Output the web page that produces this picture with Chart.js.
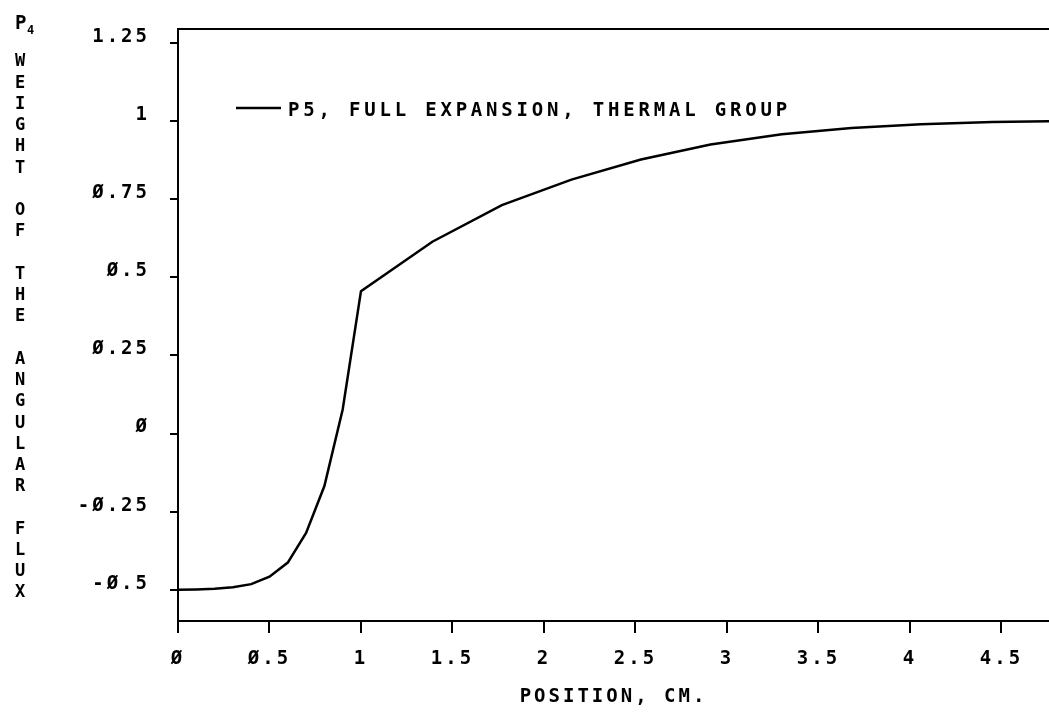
<!DOCTYPE html>
<html>
<head>
<meta charset="utf-8">
<title>P4 weight of the angular flux</title>
<script src="https://cdn.jsdelivr.net/npm/chart.js@4.4.1/dist/chart.umd.min.js"></script>
<style>
  html, body { margin: 0; padding: 0; background: #fff; }
  #wrap { width: 1049px; height: 714px; position: relative; }
</style>
</head>
<body>
<div id="wrap"><canvas id="chart"></canvas></div>
<script>
// Valores (posición en cm, peso P4)
const POSITION = [0, 0.1, 0.2, 0.3, 0.4, 0.5, 0.6, 0.7, 0.8, 0.9, 1.0,
  1.39, 1.77, 2.15, 2.53, 2.91, 3.30, 3.68, 4.06, 4.45, 4.83];
const WEIGHT = [-0.5, -0.499, -0.497, -0.492, -0.482, -0.458, -0.413, -0.318, -0.168, 0.077, 0.456,
  0.614, 0.731, 0.813, 0.877, 0.925, 0.958, 0.978, 0.990, 0.997, 1.0];

const X_TICKS = [0, 0.5, 1, 1.5, 2, 2.5, 3, 3.5, 4, 4.5];
const Y_TICKS = [-0.5, -0.25, 0, 0.25, 0.5, 0.75, 1, 1.25];

const SERIES_LABEL = 'P5, FULL EXPANSION, THERMAL GROUP';
const X_TITLE = 'POSITION, CM.';
const Y_TITLE = 'WEIGHT OF THE ANGULAR FLUX';
const Y_SYMBOL = 'P';
const Y_SUB = '4';

const INK = '#000';
const FONT = "'DejaVu Sans Mono', 'Liberation Mono', monospace";

Chart.defaults.font.family = FONT;
Chart.defaults.font.size = 19;
Chart.defaults.font.weight = 'bold';
Chart.defaults.color = INK;

// el cero del plotter va tachado
function plotterNum(v) {
  return String(v).replace(/0/g, 'Ø');
}

// Espaciado ancho de letra (estilo plotter) + marco superior, leyenda y títulos a mano
const plotter = {
  id: 'plotter',
  beforeUpdate(chart) { chart.ctx.letterSpacing = '3px'; },
  beforeDraw(chart) { chart.ctx.letterSpacing = '3px'; },
  afterDraw(chart) {
    const ctx = chart.ctx;
    const a = chart.chartArea;
    ctx.save();
    ctx.strokeStyle = INK;
    ctx.fillStyle = INK;

    // borde superior del marco
    ctx.lineWidth = 2;
    ctx.beginPath();
    ctx.moveTo(a.left, a.top);
    ctx.lineTo(a.right, a.top);
    ctx.stroke();

    // leyenda dentro del área
    ctx.lineWidth = 2.4;
    ctx.beginPath();
    ctx.moveTo(a.left + 58, 108);
    ctx.lineTo(a.left + 103, 108);
    ctx.stroke();
    ctx.font = `bold 19px ${FONT}`;
    ctx.letterSpacing = '3.8px';
    ctx.textAlign = 'left';
    ctx.textBaseline = 'alphabetic';
    ctx.fillText(chart.data.datasets[0].label, a.left + 110, 116);

    // título del eje Y: símbolo P4 y letras apiladas
    ctx.letterSpacing = '0px';
    ctx.fillText(Y_SYMBOL, 15, 29);
    ctx.font = `bold 12px ${FONT}`;
    ctx.fillText(Y_SUB, 27, 34);

    ctx.font = `bold 17px ${FONT}`;
    ctx.textAlign = 'center';
    ctx.textBaseline = 'middle';
    const chars = Y_TITLE.split('');
    const step = 21.24;
    chars.forEach((c, i) => {
      if (c !== ' ') ctx.fillText(c, 20, 62 + i * step);
    });
    ctx.restore();
    ctx.letterSpacing = '3px';
  },
};

new Chart(document.getElementById('chart'), {
  type: 'line',
  data: {
    datasets: [{
      label: SERIES_LABEL,
      data: POSITION.map((x, i) => ({ x, y: WEIGHT[i] })),
      borderColor: INK,
      borderWidth: 2.5,
      pointRadius: 0,
      tension: 0,
      fill: false,
    }],
  },
  options: {
    responsive: true,
    maintainAspectRatio: false,
    animation: false,
    devicePixelRatio: 1,
    layout: { padding: { top: 29, right: 0, left: 0, bottom: 0 } },
    scales: {
      x: {
        type: 'linear',
        min: 0,
        max: 4.76,
        afterBuildTicks: (s) => { s.ticks = X_TICKS.map((v) => ({ value: v })); },
        afterFit: (s) => { s.height = 93; s.paddingLeft = 0; s.paddingRight = 0; },
        border: { display: true, color: INK, width: 2 },
        grid: { display: true, drawOnChartArea: false, drawTicks: true, tickLength: 12, color: INK, lineWidth: 2 },
        ticks: { padding: 15, maxRotation: 0, autoSkip: false, callback: (v) => plotterNum(v) },
        title: { display: true, text: X_TITLE, padding: { top: 0, bottom: 6 }, font: { size: 19, weight: 'bold' } },
      },
      y: {
        type: 'linear',
        min: -0.6,
        max: 1.295,
        afterBuildTicks: (s) => { s.ticks = Y_TICKS.map((v) => ({ value: v })); },
        afterFit: (s) => { s.width = 178; s.paddingTop = 0; s.paddingBottom = 0; },
        border: { display: true, color: INK, width: 2 },
        grid: { display: true, drawOnChartArea: false, drawTicks: true, tickLength: 8, color: INK, lineWidth: 2 },
        ticks: { padding: 20, labelOffset: -6, autoSkip: false, callback: (v) => plotterNum(v) },
      },
    },
    plugins: {
      legend: { display: false },
      tooltip: { enabled: false },
    },
  },
  plugins: [plotter],
});
</script>
</body>
</html>
